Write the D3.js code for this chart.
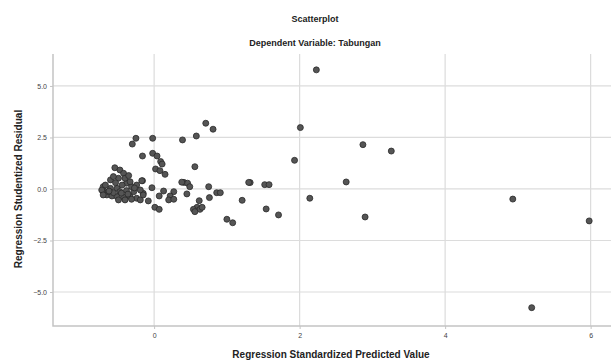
<!DOCTYPE html>
<html><head><meta charset="utf-8">
<script src="https://cdn.jsdelivr.net/npm/d3@7"></script>
<style>
html,body{margin:0;padding:0;background:#fff;}
svg{display:block;font-family:"Liberation Sans",Arial,sans-serif;}
</style></head>
<body>
<svg id="c" width="611" height="362"></svg>
<script>
const title = "Scatterplot";
const subtitle = "Dependent Variable: Tabungan";
const xTitle = "Regression Standardized Predicted Value";
const yTitle = "Regression Studentized Residual";
const xTicks = [0, 2, 4, 6];
const yTicks = [5.0, 2.5, 0.0, -2.5, -5.0];

const predicted = [
  2.23, 2.01, 2.87, 3.26, 1.93, 2.64, 1.32, 1.52, 1.58, 2.14, 1.54, 1.71, 2.90,
  4.93, 5.98, 5.19,
  0.71, 0.81, 0.58, 0.39, -0.02, -0.25, -0.30, -0.16, -0.02, 0.04, 0.09, 0.11,
  0.02, 0.08, 0.15, 0.56, 1.30, 0.75, 0.86, 0.91, 0.76, 1.21, 1.00, 1.08, 0.62,
  0.45, 0.41, 0.46, 0.38, 0.49, 0.59, 0.54, 0.63, 0.56, 0.66, 0.27, 0.22, 0.13,
  0.07, 0.20, 0.27, 0.01, 0.07, -0.03, -0.08, -0.15, -0.16,
  -0.54, -0.47, -0.42, -0.60, -0.70, -0.70, -0.65, -0.58, -0.51, -0.42, -0.33,
  -0.24, -0.19, -0.38, -0.31, -0.24, -0.17, -0.44, -0.51, -0.60, -0.63, -0.56,
  -0.47, -0.38, -0.28, -0.40, -0.33, -0.49, -0.56, -0.67, -0.72, -0.70, -0.49,
  -0.40, -0.31, -0.19, -0.15, -0.45, -0.36, -0.27, -0.53, -0.62, -0.35
];
const residual = [
  5.78, 2.98, 2.15, 1.84, 1.39, 0.34, 0.31, 0.21, 0.21, -0.45, -0.97, -1.26, -1.36,
  -0.49, -1.55, -5.76,
  3.19, 2.90, 2.57, 2.38, 2.46, 2.46, 2.18, 1.60, 1.73, 1.60, 1.33, 1.21,
  0.97, 0.89, 0.71, 1.08, 0.32, 0.11, -0.18, -0.18, -0.42, -0.55, -1.47, -1.64, -0.57,
  -0.24, 0.32, 0.28, 0.33, 0.11, -0.89, -0.99, -0.99, -1.10, -0.89, -0.13, -0.34, -0.10,
  -0.34, -0.53, -0.50, -0.89, -0.99, 0.06, -0.58, -0.21, 0.40,
  1.03, 0.92, 0.76, 0.44, 0.11, -0.13, -0.29, -0.34, -0.37, -0.40, -0.37,
  -0.45, -0.53, 0.28, 0.11, 0.19, 0.40, 0.19, 0.03, 0.03, -0.13, -0.18,
  -0.13, -0.08, -0.13, 0.52, 0.35, 0.52, 0.60, 0.19, -0.05, -0.29, -0.53,
  -0.53, -0.50, -0.05, -0.29, -0.20, -0.25, 0.05, 0.30, -0.10, 0.65
];

const svg = d3.select("#c");
const x = d3.scaleLinear().domain([-1.39, 6.28]).range([53, 611]);
const y = d3.scaleLinear().domain([-6.65, 6.55]).range([326, 54]);

// gridlines
svg.append("g").selectAll("line").data(xTicks).join("line")
  .attr("x1", d => x(d)).attr("x2", d => x(d))
  .attr("y1", y.range()[1]).attr("y2", y.range()[0])
  .attr("stroke", "#dcdcdc").attr("stroke-width", 1.2);
svg.append("g").selectAll("line").data(yTicks).join("line")
  .attr("x1", x.range()[0]).attr("x2", x.range()[1])
  .attr("y1", d => y(d)).attr("y2", d => y(d))
  .attr("stroke", "#dcdcdc").attr("stroke-width", 1.2);

// frame (left + bottom)
svg.append("path")
  .attr("d", `M${x.range()[0]},${y.range()[1]}V${y.range()[0]}H${x.range()[1]}`)
  .attr("fill", "none").attr("stroke", "#c4c4c4").attr("stroke-width", 1.5);

// axes
const xAxis = d3.axisBottom(x).tickValues(xTicks).tickFormat(d3.format("d")).tickSize(3).tickPadding(4);
const gx = svg.append("g").attr("transform", `translate(0,${y.range()[0]})`).call(xAxis);
const yAxis = d3.axisLeft(y).tickValues(yTicks).tickFormat(d3.format(".1f")).tickSize(3).tickPadding(3);
const gy = svg.append("g").attr("transform", `translate(${x.range()[0]},0)`).call(yAxis);
[gx, gy].forEach(g => {
  g.select(".domain").remove();
  g.selectAll(".tick line").attr("stroke", "#c4c4c4");
  g.selectAll(".tick text").attr("fill", "#444").style("font-size", "7px");
});

// points
svg.append("g").selectAll("circle").data(predicted.map((p, i) => [p, residual[i]])).join("circle")
  .attr("cx", d => x(d[0])).attr("cy", d => y(d[1])).attr("r", 3)
  .attr("fill", "#555").attr("stroke", "#2a2a2a").attr("stroke-width", 0.8);

// titles
svg.append("text").attr("x", 315).attr("y", 22).attr("text-anchor", "middle")
  .style("font-size", "9px").style("font-weight", "bold").attr("fill", "#222").text(title);
svg.append("text").attr("x", 315).attr("y", 46).attr("text-anchor", "middle")
  .style("font-size", "9px").style("font-weight", "bold").attr("fill", "#222").text(subtitle);
svg.append("text").attr("x", 331).attr("y", 358).attr("text-anchor", "middle")
  .style("font-size", "10px").style("font-weight", "bold").attr("fill", "#222").text(xTitle);
svg.append("text").attr("transform", "translate(22,189) rotate(-90)").attr("text-anchor", "middle")
  .style("font-size", "10px").style("font-weight", "bold").attr("fill", "#222").text(yTitle);
</script>
</body></html>
